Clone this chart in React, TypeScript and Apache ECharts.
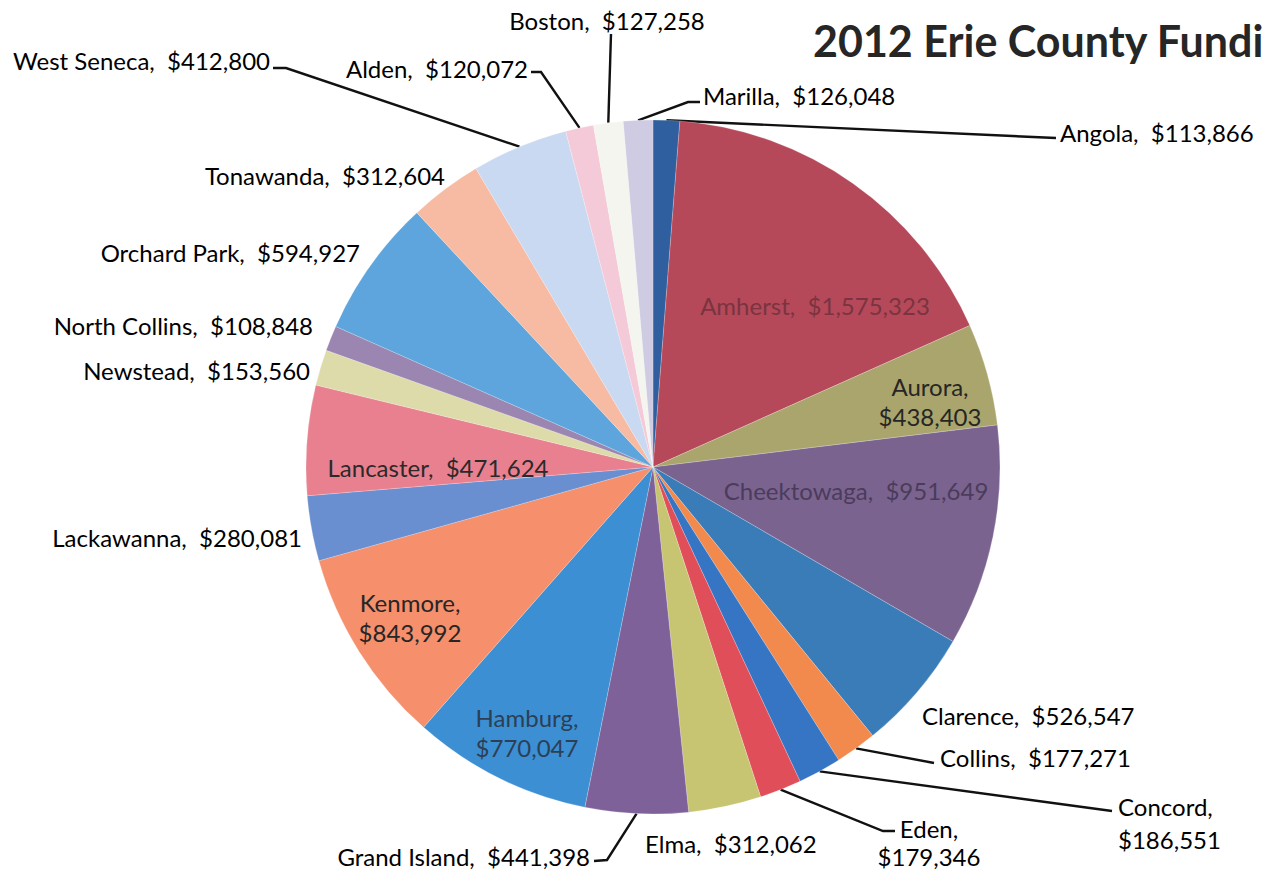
import React, { useEffect, useRef } from "react";
import * as echarts from "echarts";

const towns = [
  "Angola", "Amherst", "Aurora", "Cheektowaga", "Clarence", "Collins", "Concord", "Eden",
  "Elma", "Grand Island", "Hamburg", "Kenmore", "Lackawanna", "Lancaster", "Newstead",
  "North Collins", "Orchard Park", "Tonawanda", "West Seneca", "Alden", "Boston", "Marilla",
];
const funding = [
  113866, 1575323, 438403, 951649, 526547, 177271, 186551, 179346,
  312062, 441398, 770047, 843992, 280081, 471624, 153560,
  108848, 594927, 312604, 412800, 120072, 127258, 126048,
];
const sliceColors = [
  "#2f5f9f", "#b5495a", "#a9a56c", "#7b6390", "#3a7cb8", "#f28a4e", "#3575c4", "#e04e5a",
  "#c7c571", "#7f6199", "#3c8fd3", "#f58f6c", "#6a8fd0", "#e98090", "#dedbaa",
  "#9a86b0", "#5da5dc", "#f6bba2", "#c9d9f1", "#f5cad8", "#f3f5ee", "#cfcbe3",
];
const titleText = "2012 Erie County Fundi";

type Spot = {
  x: number; y: number; align: "left" | "right" | "center";
  inside?: boolean; twoLine?: boolean; leader?: number[][]; color?: string; lh?: number;
};

// label placement (layout only)
const spots: Record<string, Spot> = {
  Angola: { x: 1060, y: 132, align: "left", leader: [[1056, 138]] },
  Amherst: { x: 815, y: 305, align: "center", inside: true, color: "#7a3440" },
  Aurora: { x: 930, y: 401, align: "center", inside: true, twoLine: true, color: "#262626" },
  Cheektowaga: { x: 856, y: 490, align: "center", inside: true, color: "#4a3c5a" },
  Clarence: { x: 922, y: 715, align: "left" },
  Collins: { x: 940, y: 757, align: "left", leader: [[934, 763]] },
  Concord: { x: 1118, y: 823, align: "left", twoLine: true, lh: 33, leader: [[1112, 811]] },
  Eden: { x: 929, y: 842, align: "center", twoLine: true, lh: 28, leader: [[883, 831], [895, 831]] },
  Elma: { x: 645, y: 843, align: "left" },
  "Grand Island": { x: 590, y: 856, align: "right", leader: [[607, 860], [594, 861]] },
  Hamburg: { x: 527, y: 732, align: "center", inside: true, twoLine: true, color: "#2c3f55" },
  Kenmore: { x: 410, y: 617, align: "center", inside: true, twoLine: true, color: "#262626" },
  Lackawanna: { x: 302, y: 537, align: "right" },
  Lancaster: { x: 438, y: 467, align: "center", inside: true, color: "#2a2a2a" },
  Newstead: { x: 310, y: 370, align: "right" },
  "North Collins": { x: 313, y: 325, align: "right" },
  "Orchard Park": { x: 360, y: 252, align: "right" },
  Tonawanda: { x: 445, y: 175, align: "right" },
  "West Seneca": { x: 270, y: 60, align: "right", leader: [[286, 68], [273, 68]] },
  Alden: { x: 528, y: 68, align: "right", leader: [[541, 72], [531, 72]] },
  Boston: { x: 607, y: 20, align: "center", leader: [[611, 34]] },
  Marilla: { x: 703, y: 95, align: "left", leader: [[688, 102], [700, 102]] },
};

const fmt = (v: number) => "$" + v.toLocaleString("en-US");
const SEP = ",\u00a0 ";

export default function App() {
  const ref = useRef<HTMLDivElement>(null);
  useEffect(() => {
    if (!ref.current) return;
    const chart = echarts.init(ref.current, null, { renderer: "svg" });
    const data = towns.map((name, i) => {
      const s = spots[name];
      return {
        name,
        value: funding[i],
        itemStyle: { color: sliceColors[i] },
        label: {
          position: s.inside ? "inside" : "outside",
          color: s.color || "#000",
          lineHeight: s.lh || 30,
          formatter: s.twoLine ? `${name},\n${fmt(funding[i])}` : `${name}${SEP}${fmt(funding[i])}`,
        },
        labelLine: { show: !!s.leader },
      };
    });
    chart.setOption({
      animation: false,
      backgroundColor: "#ffffff",
      title: {
        text: titleText,
        left: 808,
        top: 14,
        textStyle: { fontFamily: "Lato", fontWeight: "bold", fontSize: 43, color: "#262626" },
      },
      series: [
        {
          type: "pie",
          center: [653, 467],
          radius: 347,
          startAngle: 90,
          clockwise: true,
          avoidLabelOverlap: false,
          itemStyle: { borderColor: "rgba(255,255,255,0.35)", borderWidth: 0.6 },
          label: {
            fontFamily: "Lato",
            fontSize: 24,
            lineHeight: 30,
            color: "#000",
          },
          labelLine: { lineStyle: { color: "#111", width: 2.4 }, smooth: false },
          labelLayout: (p: any) => {
            const s = spots[towns[p.dataIndex]];
            const out: any = { x: s.x, y: s.y, align: s.align, verticalAlign: "middle" };
            if (s.leader && p.labelLinePoints) {
              out.labelLinePoints = [p.labelLinePoints[0], ...s.leader];
            }
            return out;
          },
          data,
        },
      ],
    });
    return () => chart.dispose();
  }, []);
  return (
    <div
      ref={ref}
      style={{ position: "absolute", left: 0, top: 0, width: 1272, height: 871 }}
    />
  );
}
